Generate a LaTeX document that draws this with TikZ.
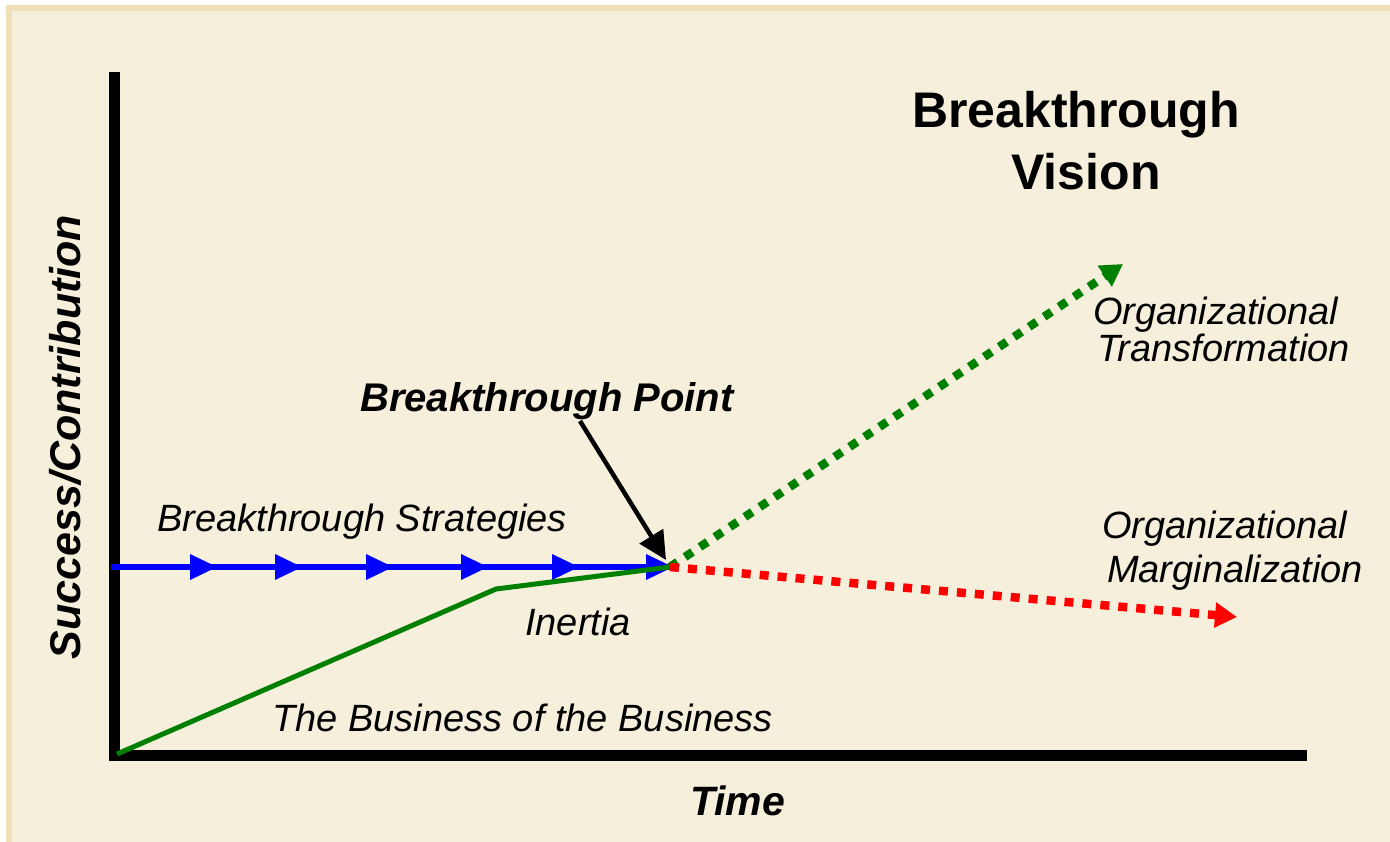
\documentclass[tikz,border=0pt]{standalone}
\usepackage{fontspec}
\setmainfont{Liberation Sans}
\usetikzlibrary{arrows.meta}
\definecolor{paper}{HTML}{F6EFDC}
\definecolor{paperedge}{HTML}{EFE0BA}
\definecolor{growgreen}{HTML}{008000}
\tikzset{
  lbl/.style={inner sep=0pt, anchor=base west, font=\fontsize{38}{38}\selectfont\itshape},
  axisline/.style={draw=black, line width=10.5pt},
  stratline/.style={draw=blue, line width=6pt},
  stratmark/.style={fill=blue},
  inertline/.style={draw=growgreen, line width=5pt, line join=miter},
  futureup/.style={draw=growgreen, line width=8.5pt, dash pattern=on 9pt off 9pt,
    -{Triangle[length=22pt,width=24pt]}},
  futuredown/.style={draw=red, line width=8.5pt, dash pattern=on 9pt off 9pt,
    -{Triangle[length=22pt,width=24pt]}},
  pointer/.style={draw=black, line width=4.5pt, -{Triangle[length=28pt,width=27pt]}},
}
\begin{document}
\begin{tikzpicture}[x=1pt,y=-1pt]
\useasboundingbox (0,0) rectangle (1390,842);
% page background with its frame
\fill[white] (0,0) rectangle (1390,842);
\fill[paperedge] (6,5) rectangle (1390,842);
\fill[paper] (12,11) rectangle (1390,842);

% key points
\coordinate (ytop) at (114.5,72);
\coordinate (corner) at (114.5,755.5);
\coordinate (xstart) at (109,755.5);
\coordinate (xend) at (1307,755.5);
\coordinate (origin) at (117,754);
\coordinate (knee) at (496,589);
\coordinate (bp) at (670,567);
\coordinate (sstart) at (111,567);
\coordinate (upend) at (1123,264);
\coordinate (downend) at (1237,617);
\coordinate (ptrstart) at (580,421);
\coordinate (ptrend) at (666,560);

% axes
\draw[axisline] (ytop) -- (corner);
\draw[axisline, line width=11pt] (xstart) -- (xend);

% breakthrough strategies: blue line with arrow marks
\draw[stratline] (sstart) -- (bp);
\foreach \tx in {217,302,393,488,579,673}
  \fill[stratmark] (\tx,567) -- ++(-27,-13) -- ++(0,26) -- cycle;

% business as usual with inertia
\draw[inertline] (origin) -- (knee) -- (bp);

% possible futures
\draw[futureup] (bp) -- (upend);
\draw[futuredown] (bp) -- (downend);

% pointer to the breakthrough point
\draw[pointer] (ptrstart) -- (ptrend);

% labels
\node[inner sep=0pt, align=center, font=\fontsize{50}{62}\selectfont\bfseries, anchor=base]
  (vision) at (1076,190) {Breakthrough\\\hspace*{20pt}Vision};
\node[lbl, font=\fontsize{40}{40}\selectfont\bfseries\itshape] (bplabel) at (360,411) {Breakthrough Point};
\node[lbl] (strat) at (157,531) {Breakthrough Strategies};
\node[lbl] (trans1) at (1093,325) {Organizational};
\node[lbl] (trans2) at (1097,362) {Transformation};
\node[lbl] (marg1) at (1102,538) {Organizational};
\node[lbl] (marg2) at (1107,582) {Marginalization};
\node[lbl] (inertia) at (525,635) {Inertia};
\node[lbl] (business) at (272,731) {The Business of the Business};
\node[lbl, font=\fontsize{41}{41}\selectfont\bfseries\itshape] (time) at (690,815) {Time};
\node[inner sep=0pt, anchor=base, rotate=90, font=\fontsize{43}{43}\selectfont\bfseries\itshape]
  (yaxis) at (80,437) {Success/Contribution};
\end{tikzpicture}
\end{document}
